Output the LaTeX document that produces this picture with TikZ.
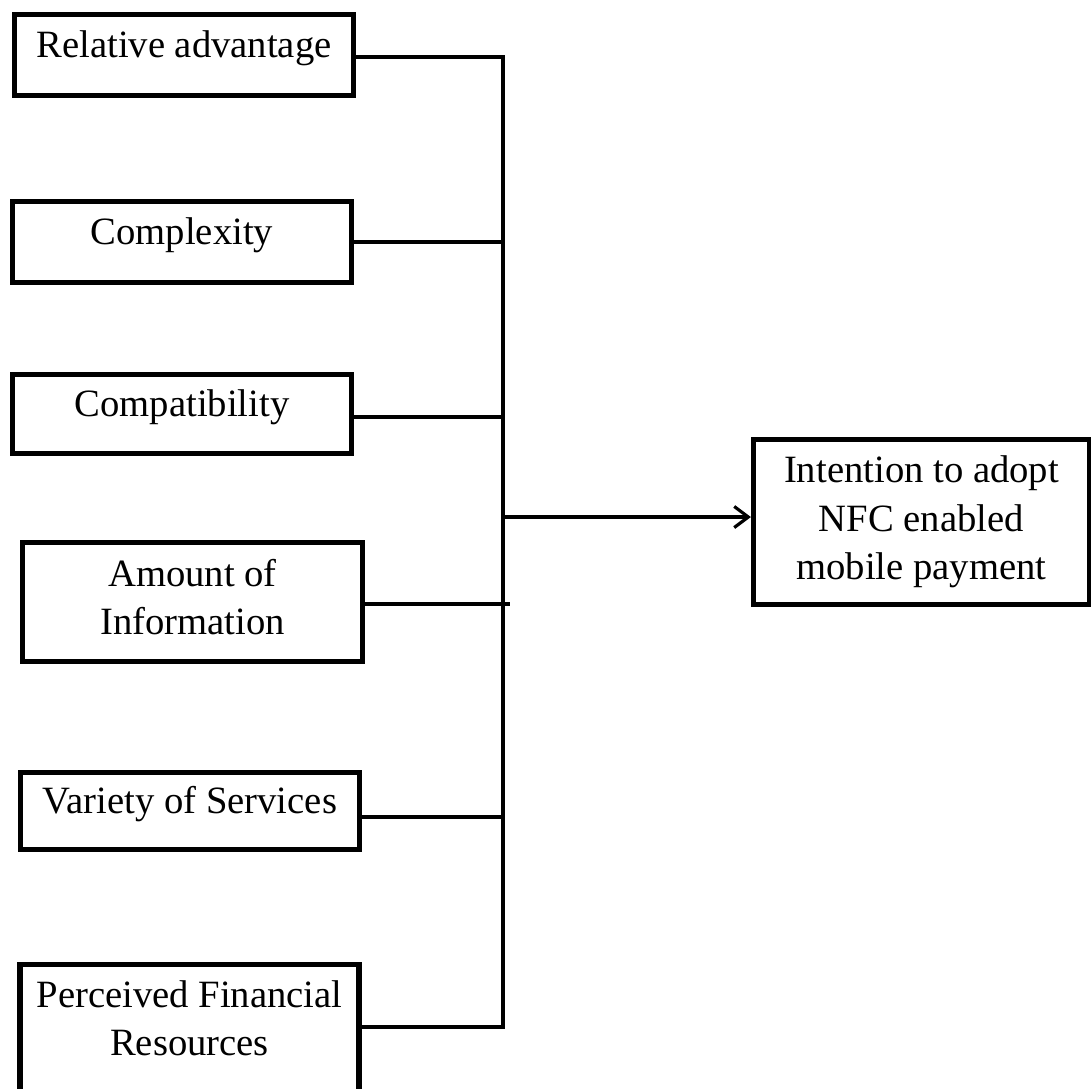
\documentclass[tikz,border=0pt]{standalone}
\usepackage{fontspec}
\setmainfont{Liberation Serif}
\usetikzlibrary{arrows.meta}

\tikzset{
  factor/.style={draw, line width=3pt, align=center, inner sep=0pt,
    font=\fontsize{22}{27.6}\selectfont},
  oneline/.style={factor, text height=15pt, text depth=12pt},
  link/.style={line width=1.8pt},
}

\begin{document}
\begin{tikzpicture}
      [x=0.02cm, y=-0.02cm]
      \path[use as bounding box, clip] (0,0) rectangle (1091,1088);

      % factors on the left
      \node[oneline, minimum width=6.78cm, minimum height=1.62cm] (ra) at (184,55) {Relative advantage};
      \node[oneline, minimum width=6.78cm, minimum height=1.62cm] (cx) at (182,242) {Complexity};
      \node[oneline, minimum width=6.78cm, minimum height=1.58cm] (cp) at (182,414) {Compatibility};
      \node[factor, minimum width=6.80cm, minimum height=2.38cm, text depth=6pt] (ai) at (192.5,602) {Amount of\\Information};
      \node[oneline, minimum width=6.78cm, minimum height=1.54cm] (vs) at (190,811) {Variety of Services};
      \node[factor, minimum width=6.78cm, minimum height=2.66cm, text depth=15pt] (pf) at (189.5,1031) {Perceived Financial\\Resources};

      % outcome
      \node[factor, minimum width=6.72cm, minimum height=3.30cm] (tg) at (921.5,522) {Intention to adopt\\NFC enabled\\mobile payment};

      \coordinate (bus) at (503,0);

      \draw[link] ([yshift=-0.04cm]ra.east) -- ([yshift=-0.04cm]ra.east -| bus)
        -- ([yshift=0.08cm]pf.east -| bus) -- ([yshift=0.08cm]pf.east);
      \draw[link] (cx.east) -- (cx.east -| bus);
      \draw[link] ([yshift=-0.06cm]cp.east) -- ([yshift=-0.06cm]cp.east -| bus);
      \draw[link] ([yshift=-0.04cm]ai.east) -- ([xshift=0.14cm, yshift=-0.04cm]ai.east -| bus);
      \draw[link] ([yshift=-0.12cm]vs.east) -- ([yshift=-0.12cm]vs.east -| bus);

      \draw[link, -{Straight Barb[length=8pt, width=12pt]}] ([yshift=0.1cm]tg.west -| bus) -- ([yshift=0.1cm]tg.west);
\end{tikzpicture}
\end{document}
